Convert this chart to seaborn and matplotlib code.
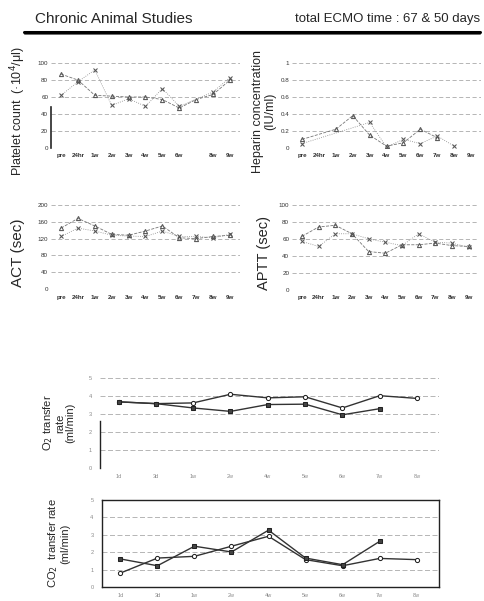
import matplotlib
matplotlib.use("Agg")
import matplotlib.pyplot as plt
import numpy as np
import pandas as pd
import seaborn as sns
from matplotlib.lines import Line2D

# time points for the four lab panels
weeks = ['pre', '24hr', '1w', '2w', '3w', '4w', '5w', '6w', '7w', '8w', '9w']
platelet_weeks = ['pre', '24hr', '1w', '2w', '3w', '4w', '5w', '6w', '', '8w', '9w']

platelet_a = [87, 80, 62, 61, 60, 60, 57, 47, 57, 63, 80]
platelet_b = [62, 78, 92, 50, 58, 49, 70, 49, np.nan, 66, 83]

heparin_a = [0.10, np.nan, 0.22, 0.38, 0.15, 0.02, 0.06, 0.22, 0.12, np.nan, np.nan]
heparin_b = [0.05, np.nan, np.nan, np.nan, 0.30, 0.01, 0.10, 0.05, 0.14, 0.02, np.nan]

act_a = [145, 168, 150, 130, 128, 138, 150, 122, 120, 125, 128]
act_b = [125, 145, 138, 128, 126, 125, 138, 125, 125, 122, 130]

aptt_a = [63, 74, 76, 66, 45, 43, 53, 53, 55, 52, 51]
aptt_b = [57, 51, 66, 66, 60, 56, 52, 66, 56, 55, 50]

# gas transfer panels
days = ['1d', '3d', '1w', '2w', '4w', '5w', '6w', '7w', '8w']
o2_a = [3.68, 3.58, 3.62, 4.10, 3.90, 3.96, 3.34, 4.02, 3.87]
o2_b = [3.68, 3.58, 3.34, 3.15, 3.53, 3.55, 2.96, 3.30, np.nan]
co2_a = [0.81, 1.67, 1.77, 2.35, 2.92, 1.58, 1.23, 1.65, 1.58]
co2_b = [1.62, 1.23, 2.35, 2.02, 3.27, 1.67, 1.29, 2.63, np.nan]

sns.set_style("white")
plt.rcParams['font.family'] = ['Liberation Sans', 'DejaVu Sans']

fig = plt.figure(figsize=(4.85, 6.01), dpi=100)

fig.text(0.072, 0.968, 'Chronic Animal Studies', fontsize=11, va='center')
fig.text(0.99, 0.968, 'total ECMO time : 67 & 50 days', fontsize=9.5, va='center', ha='right')
fig.add_artist(Line2D([0.05, 0.99], [0.947, 0.947], color='black', lw=2.2))
fig.add_artist(Line2D([0.05, 0.99], [0.943, 0.943], color='#555555', lw=0.6))


def lab_panel(rect, a, b, labels, yticks, yticklabels, ylabel, label_x, fs):
    ax = fig.add_axes(rect)
    x = np.arange(len(labels))
    sns.lineplot(x=x, y=a, ax=ax, color='#777777', lw=0.6, linestyle='--',
                 marker='^', markersize=3, markerfacecolor='none', markeredgecolor='#555555')
    sns.lineplot(x=x, y=b, ax=ax, color='#888888', lw=0.6, linestyle=':',
                 marker='x', markersize=3, markeredgecolor='#555555')
    ax.set_xlim(-0.6, len(labels) - 0.4)
    ax.set_ylim(yticks[0], yticks[-1])
    ax.set_yticks(yticks)
    ax.set_yticklabels(yticklabels)
    ax.set_xticks(x)
    ax.set_xticklabels(labels, fontsize=4.5, fontweight='bold', color='#333333')
    ax.tick_params(axis='y', labelsize=4.5, colors='#333333', length=0, pad=2)
    ax.tick_params(axis='x', length=0, pad=4)
    ax.yaxis.grid(True, linestyle=(0, (5, 3)), color='#aaaaaa', lw=0.6)
    for s in ['top', 'right', 'bottom', 'left']:
        ax.spines[s].set_visible(False)
    fig.text(label_x, rect[1] + rect[3] / 2 - 0.01, ylabel, rotation=90,
             ha='center', va='center', fontsize=fs, linespacing=1.0)
    return ax


ax1 = lab_panel([0.105, 0.754, 0.39, 0.141], platelet_a, platelet_b, platelet_weeks,
                [0, 20, 40, 60, 80, 100], ['0', '20', '40', '60', '80', '100'],
                'Platelet count  (·10$^4$/μl)', 0.038, 9)
ax1.spines['left'].set_visible(True)
ax1.spines['left'].set_bounds(0, 48)
ax1.spines['left'].set_linewidth(1.2)

lab_panel([0.602, 0.754, 0.39, 0.141], heparin_a, heparin_b, weeks,
          [0, 0.2, 0.4, 0.6, 0.8, 1], ['0', '0.2', '0.4', '0.6', '0.8', '1'],
          'Heparin concentration\n(IU/ml)', 0.545, 9)
lab_panel([0.105, 0.519, 0.39, 0.140], act_a, act_b, weeks,
          [0, 40, 80, 120, 160, 200], ['0', '40', '80', '120', '160', '200'],
          'ACT (sec)', 0.038, 11)
lab_panel([0.602, 0.518, 0.385, 0.141], aptt_a, aptt_b, weeks,
          [0, 20, 40, 60, 80, 100], ['0', '20', '40', '60', '80', '100'],
          'APTT (sec)', 0.545, 10.5)


def gas_panel(rect, a, b, ylabel, label_x, boxed):
    ax = fig.add_axes(rect)
    x = np.arange(len(days))
    sns.lineplot(x=x, y=a, ax=ax, color='#333333', lw=1.0, marker='o', markersize=3,
                 markerfacecolor='white', markeredgecolor='#222222')
    sns.lineplot(x=x, y=b, ax=ax, color='#333333', lw=1.0, marker='s', markersize=3,
                 markerfacecolor='#444444', markeredgecolor='#222222')
    ax.set_xlim(-0.5, len(days) - 0.4)
    ax.set_ylim(0, 5)
    ax.set_yticks([0, 1, 2, 3, 4, 5])
    ax.set_yticklabels(['0', '1', '2', '3', '4', '5'])
    ax.set_xticks(x)
    ax.set_xticklabels(days, fontsize=4, color='#888888')
    ax.tick_params(axis='y', labelsize=4, colors='#888888', length=0, pad=6)
    ax.tick_params(axis='x', length=0, pad=4)
    ax.yaxis.grid(True, linestyle=(0, (6, 3)), color='#aaaaaa', lw=0.6)
    for s in ['top', 'right', 'bottom', 'left']:
        ax.spines[s].set_visible(boxed)
        ax.spines[s].set_color('#222222')
        ax.spines[s].set_linewidth(1.0)
    fig.text(label_x, rect[1] + rect[3] / 2, ylabel, rotation=90,
             ha='center', va='center', fontsize=8, linespacing=1.0)
    return ax


ax5 = gas_panel([0.206, 0.221, 0.70, 0.150], o2_a, o2_b, 'O$_2$ transfer\nrate\n(ml/min)', 0.12, False)
ax5.spines['left'].set_visible(True)
ax5.spines['left'].set_bounds(0, 2.6)

gas_panel([0.21, 0.023, 0.695, 0.145], co2_a, co2_b, 'CO$_2$  transfer rate\n(ml/min)', 0.12, True)

fig.savefig('out.png', dpi=100)
